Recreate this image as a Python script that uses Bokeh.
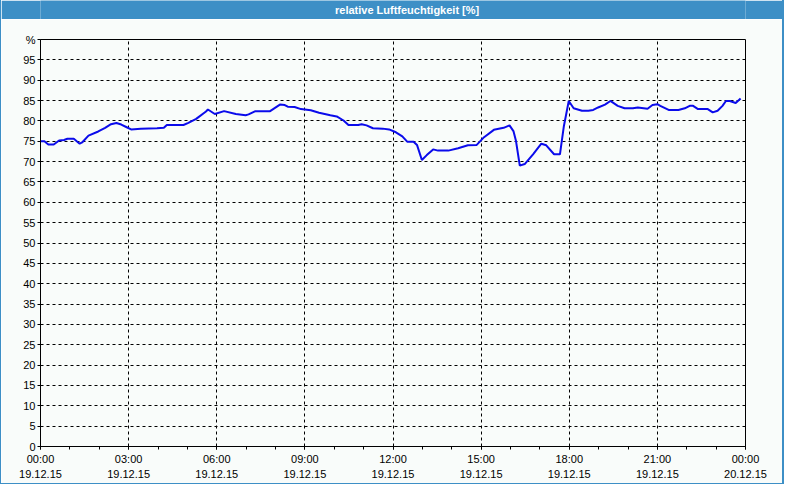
from bokeh.plotting import figure
from bokeh.models import Range1d, FixedTicker, Label, ColumnDataSource
from bokeh.layouts import column
from bokeh.embed import file_html
from bokeh.resources import INLINE

# ---- data ----
title_text = "relative Luftfeuchtigkeit [%]"

minutes = [0, 8, 16, 27, 38, 48, 55, 68, 80, 85, 98, 118, 132, 144, 155, 165, 175, 185,
           205, 238, 252, 258, 292, 302, 318, 338, 342, 356, 375, 399, 419, 425, 439,
           469, 479, 489, 499, 505, 519, 532, 552, 569, 592, 605, 619, 629, 649, 656,
           666, 679, 699, 712, 726, 739, 749, 762, 769, 779, 789, 802, 812, 833, 853,
           873, 891, 906, 926, 946, 958, 966, 971, 979, 989, 1006, 1023, 1033, 1049,
           1061, 1069, 1079, 1089, 1106, 1119, 1129, 1139, 1153, 1164, 1179, 1193,
           1210, 1220, 1240, 1250, 1260, 1266, 1283, 1303, 1316, 1326, 1333, 1343,
           1363, 1373, 1383, 1393, 1400, 1408, 1420, 1430]

humidity = [75.0, 75.0, 74.2, 74.2, 75.2, 75.3, 75.6, 75.6, 74.4, 74.7, 76.4, 77.4, 78.3,
            79.2, 79.5, 79.1, 78.5, 77.9, 78.1, 78.2, 78.3, 79.0, 79.0, 79.5, 80.5, 82.3,
            82.8, 81.7, 82.4, 81.7, 81.4, 81.6, 82.4, 82.4, 83.2, 84.0, 83.9, 83.5, 83.4,
            82.9, 82.6, 82.0, 81.4, 81.1, 80.1, 79.0, 79.0, 79.2, 78.9, 78.2, 78.1, 77.9,
            77.2, 76.2, 74.9, 74.9, 74.1, 70.4, 71.6, 73.0, 72.7, 72.7, 73.3, 74.0, 74.1,
            76.0, 77.8, 78.3, 78.9, 77.5, 75.2, 69.0, 69.4, 71.8, 74.4, 74.0, 71.8, 71.8,
            78.7, 84.9, 83.1, 82.5, 82.5, 82.7, 83.3, 84.0, 84.9, 83.7, 83.1, 83.1, 83.3,
            83.0, 83.9, 84.1, 83.7, 82.7, 82.7, 83.1, 83.7, 83.7, 82.9, 82.9, 82.1, 82.5,
            83.7, 84.9, 84.9, 84.4, 85.5]

x_tick_hours = [0, 3, 6, 9, 12, 15, 18, 21, 24]
x_minor_hours = list(range(0, 25))
x_tick_labels = ["00:00\n19.12.15", "03:00\n19.12.15", "06:00\n19.12.15",
                 "09:00\n19.12.15", "12:00\n19.12.15", "15:00\n19.12.15",
                 "18:00\n19.12.15", "21:00\n19.12.15", "00:00\n20.12.15"]
y_ticks = [0, 5, 10, 15, 20, 25, 30, 35, 40, 45, 50, 55, 60, 65, 70, 75, 80, 85, 90, 95, 100]
y_unit_label = "%"

# ---- styling ----
BG = "#F9FCFA"
BLUE = "#3D8FC6"
LINE = "#0B0BEB"
FONT = "Liberation Sans"

hours = [m / 60.0 for m in minutes]
src = ColumnDataSource(data=dict(h=hours, v=humidity))

# title bar
tb = figure(width=781, height=19, toolbar_location=None, output_backend="svg",
            x_range=Range1d(0, 1), y_range=Range1d(0, 1), min_border=0)
tb.background_fill_color = BLUE
tb.border_fill_color = BLUE
tb.outline_line_color = None
tb.axis.visible = False
tb.grid.visible = False
tb.add_layout(Label(x=0.52, y=0.5, text=title_text, text_align="center",
                    text_baseline="middle", text_color="white", text_font=FONT,
                    text_font_size="11px", text_font_style="bold"))

# main chart
p = figure(width=781, height=464, toolbar_location=None, output_backend="svg",
           x_range=Range1d(0, 24), y_range=Range1d(0, 100),
           min_border_left=39, min_border_right=37, min_border_top=20,
           min_border_bottom=37)
p.background_fill_color = BG
p.border_fill_color = BG
p.outline_line_color = "black"
p.outline_line_width = 1

p.line("h", "v", source=src, line_color=LINE, line_width=2)

xa = p.xaxis[0]
xa.ticker = FixedTicker(ticks=x_tick_hours, minor_ticks=x_minor_hours)
xa.major_label_overrides = {h: lab for h, lab in zip(x_tick_hours, x_tick_labels)}
ya = p.yaxis[0]
ya.ticker = FixedTicker(ticks=y_ticks)
ya.major_label_overrides = {y_ticks[-1]: y_unit_label}

for ax in (xa, ya):
    ax.axis_line_color = "black"
    ax.major_tick_line_color = "black"
    ax.minor_tick_line_color = "black"
    ax.major_tick_in = 0
    ax.major_tick_out = 3
    ax.minor_tick_in = 0
    ax.major_label_text_font = FONT
    ax.major_label_text_font_size = "11px"
    ax.major_label_text_color = "black"
xa.minor_tick_out = 3
ya.minor_tick_out = 0
ya.major_label_standoff = 2
xa.major_label_standoff = 3
xa.major_label_text_line_height = 1.3

p.xgrid.grid_line_color = "black"
p.xgrid.grid_line_dash = "3 3"
p.ygrid.grid_line_color = "black"
p.ygrid.grid_line_dash = "3 3"

layout = column(tb, p, spacing=0,
                styles={"border-left": "1px solid " + BLUE,
                        "border-right": "2px solid " + BLUE,
                        "border-bottom": "1px solid " + BLUE})
open("out.html", "w").write(file_html(layout, INLINE))
